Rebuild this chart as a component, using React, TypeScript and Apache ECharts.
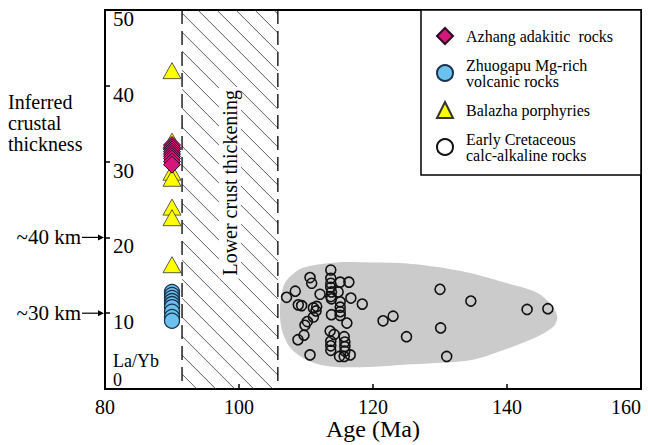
import React, { useEffect, useRef } from 'react';
import * as echarts from 'echarts';

const SERIF = "'Liberation Serif', 'Times New Roman', serif";

// Axis settings
const xMin = 80, xMax = 160, xStep = 20;
const yMin = 0, yMax = 50, yStep = 10;

// Azhang adakitic rocks (all ~90 Ma)
const azhangAge = 90;
const azhangLaYb = [32.2, 31.9, 31.6, 31.3, 31.0, 30.7, 30.4, 30.0, 29.6];

// Zhuogapu Mg-rich volcanic rocks
const zhuogapuAge = 90;
const zhuogapuLaYb = [12.8, 12.4, 12.0, 11.6, 11.2, 10.8, 10.2, 9.5, 9.0];

// Balazha porphyries
const balazhaAge = 90;
const balazhaLaYb = [42.0, 32.7, 28.6, 27.8, 24.0, 22.6, 16.4];

// Early Cretaceous calc-alkaline rocks
const cretAge = [113.7, 110.6, 110.85, 113.7, 113.7, 113.7, 113.8, 113.7, 115.1, 116.4, 114.8, 116.7, 112.1, 108.4, 107.1, 113.8, 118.4, 108.85, 109.35, 111.6, 111.1, 111.5, 115.1, 115.1, 115.1, 115.1, 113.8, 111.1, 110.2, 109.85, 116.1, 113.6, 114.2, 109.7, 108.8, 115.7, 115.8, 115.8, 115.8, 113.7, 113.7, 113.7, 110.6, 115.0, 115.7, 116.6, 130.0, 134.6, 143.0, 146.1, 121.5, 123.0, 130.1, 125.0, 131.0];
const cretLaYb = [15.7, 14.7, 13.95, 14.6, 13.95, 13.4, 12.8, 12.2, 14.1, 14.1, 12.8, 12.0, 12.5, 12.9, 12.1, 11.9, 11.2, 11.1, 11.0, 10.9, 10.7, 10.3, 11.5, 10.8, 10.2, 9.7, 9.8, 9.5, 8.9, 8.4, 8.7, 7.65, 7.2, 7.1, 6.5, 6.9, 6.2, 5.6, 5.0, 6.3, 5.7, 5.1, 4.5, 4.3, 4.3, 4.5, 13.15, 11.6, 10.5, 10.6, 9.0, 9.6, 8.05, 6.9, 4.3];

// Gray field outline around Early Cretaceous rocks
const fieldAge = [106.1, 106.6, 107.6, 109.55, 114.6, 119.6, 124.5, 129.6, 134.5, 139.4, 144.5, 146.9, 147.5, 146.9, 144.5, 139.4, 134.5, 124.5, 119.6, 114.6, 112.1, 109.55, 107.6, 106.4];
const fieldLaYb = [10.4, 13.5, 14.8, 16.0, 16.7, 16.7, 16.6, 16.1, 15.3, 14.1, 12.7, 10.8, 9.4, 8.2, 6.9, 5.1, 3.8, 3.2, 2.9, 2.9, 3.2, 4.1, 5.5, 7.8];

// Lower crust thickening band (Ma)
const thickeningBand = [91.5, 105.8];
const thickeningLabel = 'Lower crust thickening';

// Inferred crustal thickness marks on La/Yb axis
const thicknessLaYb = [20, 10];
const thicknessLabels = ['~40 km', '~30 km'];

const seriesNames = ['Azhang adakitic  rocks', 'Zhuogapu Mg-rich\nvolcanic rocks', 'Balazha porphyries', 'Early Cretaceous\ncalc-alkaline rocks'];

export default function App() {
  const ref = useRef<HTMLDivElement>(null);
  useEffect(() => {
    if (!ref.current) return;
    const chart = echarts.init(ref.current, null, { renderer: 'svg' });

    const option: any = {
      animation: false,
      backgroundColor: '#fff',
      grid: { left: 105, right: 7, top: 10, bottom: 56, show: true, borderColor: '#000', borderWidth: 2, outerBoundsMode: 'none', containLabel: false },
      xAxis: {
        type: 'value', min: xMin, max: xMax, interval: xStep,
        name: 'Age (Ma)', nameLocation: 'middle', nameGap: 28, nameMoveOverlap: false,
        nameTextStyle: { fontFamily: SERIF, fontSize: 24, color: '#000', verticalAlign: 'top' },
        axisLine: { show: true, lineStyle: { color: '#000', width: 2 } },
        axisTick: { show: true, inside: true, length: 5, lineStyle: { color: '#000', width: 1.5 } },
        axisLabel: { fontFamily: SERIF, fontSize: 20, color: '#000', margin: 8, alignMaxLabel: 'right' },
        splitLine: { show: false },
      },
      yAxis: [
        {
          type: 'value', min: yMin, max: yMax, interval: yStep,
          axisLine: { show: true, lineStyle: { color: '#000', width: 2 } },
          axisTick: { show: true, inside: true, length: 5, lineStyle: { color: '#000', width: 1.5 } },
          axisLabel: {
            inside: true, margin: 8, verticalAlign: 'top', lineHeight: 18,
            fontFamily: SERIF, fontSize: 21, color: '#000',
            formatter: (v: number) => (v === 0 ? '' : String(v)),
          },
          splitLine: { show: false },
        },
        {
          type: 'value', min: yMin, max: yMax, interval: yStep, position: 'left',
          axisLine: { show: false }, axisTick: { show: false }, splitLine: { show: false },
          axisLabel: {
            inside: true, margin: 8, verticalAlign: 'bottom', lineHeight: 19,
            fontFamily: SERIF, fontSize: 18, color: '#000',
            formatter: (v: number) => (v === 0 ? 'La/Yb\n0' : ''),
          },
        },
      ],
      legend: {
        orient: 'vertical', left: 436, top: 27, padding: 0, itemGap: 12,
        itemWidth: 16, itemHeight: 16, selectedMode: false,
        data: seriesNames,
        textStyle: { fontFamily: SERIF, fontSize: 16, lineHeight: 16, color: '#000', padding: [0, 0, 0, 8] },
      },
      graphic: {
        elements: [
          {
            type: 'rect', z: 1,
            shape: { x: 421, y: 10, width: 220, height: 165 },
            style: { fill: '#fff', stroke: '#000', lineWidth: 1.5 },
          },
          {
            type: 'text', left: 8, top: 91,
            style: { text: 'Inferred\ncrustal\nthickness', fontFamily: SERIF, fontSize: 20, lineHeight: 21, fill: '#000' },
          },
        ],
      },
      series: [
        {
          type: 'custom', name: 'field', z: 1, silent: true,
          renderItem: (params: any, api: any) => {
            const pts = fieldAge.map((a, i) => api.coord([a, fieldLaYb[i]]));
            return { type: 'polygon', shape: { points: pts, smooth: 0.3 }, style: { fill: '#cbcbcb', stroke: 'none' } };
          },
          data: [[fieldAge[0], fieldLaYb[0]]],
        },
        {
          type: 'custom', name: 'band', z: 1, silent: true,
          renderItem: (params: any, api: any) => {
            const tl = api.coord([api.value(0), yMax]);
            const br = api.coord([api.value(1), yMin]);
            const left = tl[0], top = tl[1], right = br[0], bottom = br[1];
            const w = right - left;
            const children: any[] = [];
            const step = 19;
            for (let c = top - w + 4; c < bottom; c += step) {
              let xa = left, ya = c;
              if (ya < top) { xa = left + (top - ya); ya = top; }
              let xb = right, yb = c + w;
              if (yb > bottom) { xb = right - (yb - bottom); yb = bottom; }
              if (xa < xb) {
                children.push({ type: 'line', shape: { x1: xa, y1: ya, x2: xb, y2: yb }, style: { stroke: '#333', lineWidth: 0.8 } });
              }
            }
            [left, right].forEach((x) => {
              children.push({ type: 'line', shape: { x1: x, y1: top, x2: x, y2: bottom }, style: { stroke: '#000', lineWidth: 1.3, lineDash: [14, 7] } });
            });
            const mid = api.coord([(api.value(0) + api.value(1)) / 2, 27.2]);
            children.push({
              type: 'text', x: mid[0], y: mid[1], rotation: Math.PI / 2,
              style: {
                text: thickeningLabel, fontFamily: SERIF, fontSize: 20, fill: '#000',
                align: 'center', verticalAlign: 'middle', backgroundColor: '#fff', padding: [1, 3],
              },
            });
            return { type: 'group', children };
          },
          data: [thickeningBand],
        },
        {
          type: 'custom', name: 'thickness', z: 5, silent: true, clip: false,
          renderItem: (params: any, api: any) => {
            const p = api.coord([xMin, api.value(0)]);
            const x = p[0], y = p[1];
            return {
              type: 'group',
              children: [
                { type: 'text', x: x - 24, y, style: { text: thicknessLabels[params.dataIndex], fontFamily: SERIF, fontSize: 21, fill: '#000', align: 'right', verticalAlign: 'middle' } },
                { type: 'line', shape: { x1: x - 23, y1: y, x2: x - 5, y2: y }, style: { stroke: '#000', lineWidth: 1.2 } },
                { type: 'polygon', shape: { points: [[x - 7, y - 3], [x - 1, y], [x - 7, y + 3]] }, style: { fill: '#000' } },
              ],
            };
          },
          data: thicknessLaYb.map((v) => [v]),
          encode: { y: 0 },
        },
        {
          type: 'scatter', name: seriesNames[2], z: 3,
          symbol: 'triangle', symbolSize: [18, 16],
          itemStyle: { color: '#ffff00', borderColor: '#333', borderWidth: 0.8, opacity: 1 },
          data: balazhaLaYb.map((v) => [balazhaAge, v]),
        },
        {
          type: 'scatter', name: seriesNames[0], z: 4,
          symbol: 'diamond', symbolSize: [17, 17],
          itemStyle: { color: '#d4177b', borderColor: '#2a0a20', borderWidth: 1, opacity: 1 },
          data: azhangLaYb.map((v) => [azhangAge, v]),
        },
        {
          type: 'scatter', name: seriesNames[1], z: 4,
          symbol: 'circle', symbolSize: 15,
          itemStyle: { color: '#6cc2ee', borderColor: '#1c3350', borderWidth: 1.3, opacity: 1 },
          data: zhuogapuLaYb.map((v) => [zhuogapuAge, v]),
        },
        {
          type: 'scatter', name: seriesNames[3], z: 4,
          symbol: 'circle', symbolSize: 10,
          itemStyle: { color: 'rgba(0,0,0,0)', borderColor: '#111', borderWidth: 1.6, opacity: 1 },
          data: cretAge.map((a, i) => [a, cretLaYb[i]]),
        },
      ],
    };
    chart.setOption(option);
    return () => chart.dispose();
  }, []);
  return <div ref={ref} style={{ position: 'absolute', left: 0, top: 0, width: 648, height: 445 }} />;
}
